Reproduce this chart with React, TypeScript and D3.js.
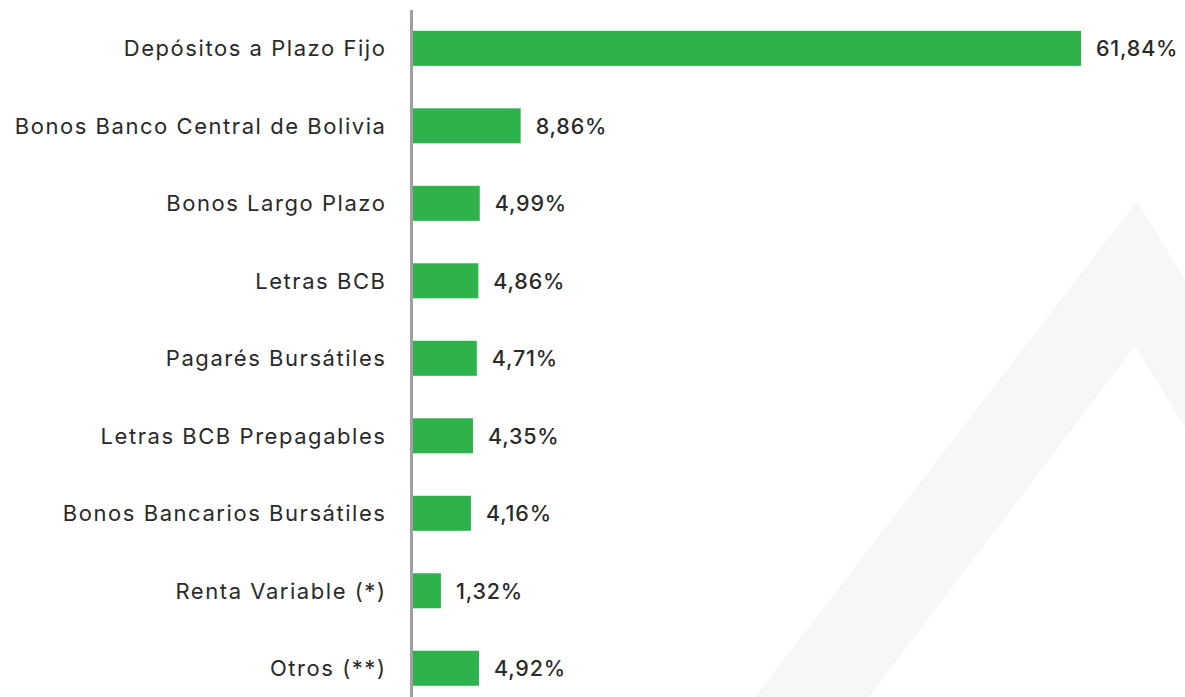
import React, { useRef, useEffect } from 'react';
import * as d3 from 'd3';

// chart data
const categories = [
  'Depósitos a Plazo Fijo',
  'Bonos Banco Central de Bolivia',
  'Bonos Largo Plazo',
  'Letras BCB',
  'Pagarés Bursátiles',
  'Letras BCB Prepagables',
  'Bonos Bancarios Bursátiles',
  'Renta Variable (*)',
  'Otros (**)',
];
const values = [61.84, 8.86, 4.99, 4.86, 4.71, 4.35, 4.16, 1.32, 4.92];
const xDomain = [-1.32, 61.84];

const W = 1185;
const H = 697;
const FONT = 'Inter, "Open Sans", sans-serif';

export default function App() {
  const svgRef = useRef<SVGSVGElement>(null);

  useEffect(() => {
    const svg = d3.select(svgRef.current);
    svg.selectAll('*').remove();

    // faint chevron watermark in the background
    svg
      .append('path')
      .attr('d', 'M755,697 L1137,201 L1190,288 L1190,435 L1135,346 L869,697 Z')
      .attr('fill', '#f6f7f6');

    const x = d3.scaleLinear().domain(xDomain).range([413, 1081]);

    const y = d3
      .scaleBand()
      .domain(categories)
      .range([9.6, 707])
      .paddingInner(0.548)
      .paddingOuter(0.274);

    const rows = categories.map((c, i) => ({ cat: c, val: values[i] }));

    // bars
    svg
      .append('g')
      .selectAll('rect')
      .data(rows)
      .enter()
      .append('rect')
      .attr('x', x(xDomain[0]))
      .attr('y', (d) => y(d.cat)!)
      .attr('height', y.bandwidth())
      .attr('width', (d) => x(d.val) - x(xDomain[0]))
      .attr('fill', '#2db24c');

    // value labels
    svg
      .append('g')
      .selectAll('text')
      .data(rows)
      .enter()
      .append('text')
      .attr('x', (d) => x(d.val) + 15)
      .attr('y', (d) => y(d.cat)! + y.bandwidth() / 2)
      .attr('dy', '0.36em')
      .attr('font-family', FONT)
      .attr('font-size', 21.5)
      .attr('font-weight', 500)
      .attr('letter-spacing', 0.8)
      .attr('fill', '#2a2a2a')
      .text((d) => d.val.toFixed(2).replace('.', ',') + '%');

    // category axis
    const axis = svg
      .append('g')
      .attr('transform', 'translate(411,0)')
      .call(d3.axisLeft(y).tickSize(0).tickPadding(24.5));
    axis.select('.domain').attr('stroke', '#a0a0a4').attr('stroke-width', 3);
    axis
      .selectAll('text')
      .attr('font-family', FONT)
      .attr('font-size', 22)
      .attr('letter-spacing', 1.55)
      .attr('fill', '#2a2a2a')
      .attr('dy', '0.36em');
  }, []);

  return (
    <svg
      ref={svgRef}
      width={W}
      height={H}
      style={{ position: 'absolute', left: 0, top: 0, background: '#fff' }}
    />
  );
}
